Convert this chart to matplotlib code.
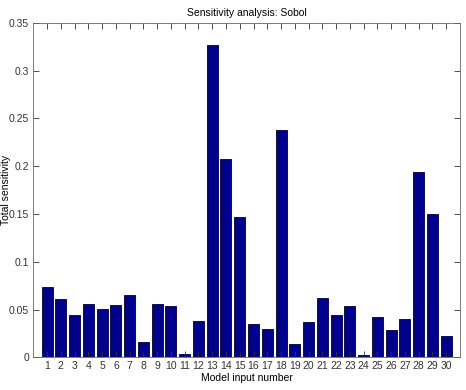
import matplotlib
matplotlib.use("Agg")
import matplotlib.pyplot as plt

# ---------------------------------------------------------------------------
# Data
# ---------------------------------------------------------------------------
inputs = list(range(1, 31))
total_sensitivity = [
    0.0735, 0.0607, 0.0442, 0.0554, 0.0509, 0.0547, 0.0648, 0.0157, 0.0557, 0.0533,
    0.0031, 0.0376, 0.3264, 0.2071, 0.1464, 0.0345, 0.0293, 0.2374, 0.0136, 0.0366,
    0.0620, 0.0439, 0.0537, 0.0028, 0.0422, 0.0282, 0.0397, 0.1935, 0.1496, 0.0223,
]
y_ticks = [0, 0.05, 0.1, 0.15, 0.2, 0.25, 0.3, 0.35]
y_tick_labels = ["0", "0.05", "0.1", "0.15", "0.2", "0.25", "0.3", "0.35"]

plt.rcParams["font.family"] = ["Liberation Sans", "DejaVu Sans"]
plt.rcParams["font.size"] = 7.5

fig = plt.figure(figsize=(4.66, 3.9), dpi=100)
ax = fig.add_axes([0.0715, 0.0838, 0.9155, 0.858])

ax.bar(inputs, total_sensitivity, width=0.8, color="#00008f",
       edgecolor="#000030", linewidth=0.6)

ax.set_xlim(0, 31)
ax.set_ylim(0, 0.35)
ax.set_xticks(inputs)
ax.set_xticklabels([str(i) for i in inputs])
ax.set_yticks(y_ticks)
ax.set_yticklabels(y_tick_labels)

ax.tick_params(direction="in", length=4, width=0.6, top=True, right=True,
               labelsize=7.5, pad=3, colors="#333333")
for s in ax.spines.values():
    s.set_linewidth(0.6)
    s.set_color("#666666")

ax.set_title("Sensitivity analysis: Sobol", fontsize=7.5, pad=5)
ax.set_xlabel("Model input number", fontsize=7.5, labelpad=1)
# y label sits right at the left edge, as in the reference
fig.text(0.012, 0.513, "Total sensitivity", rotation=90, ha="center",
         va="center", fontsize=7.5)

fig.savefig("out.png", dpi=100)
